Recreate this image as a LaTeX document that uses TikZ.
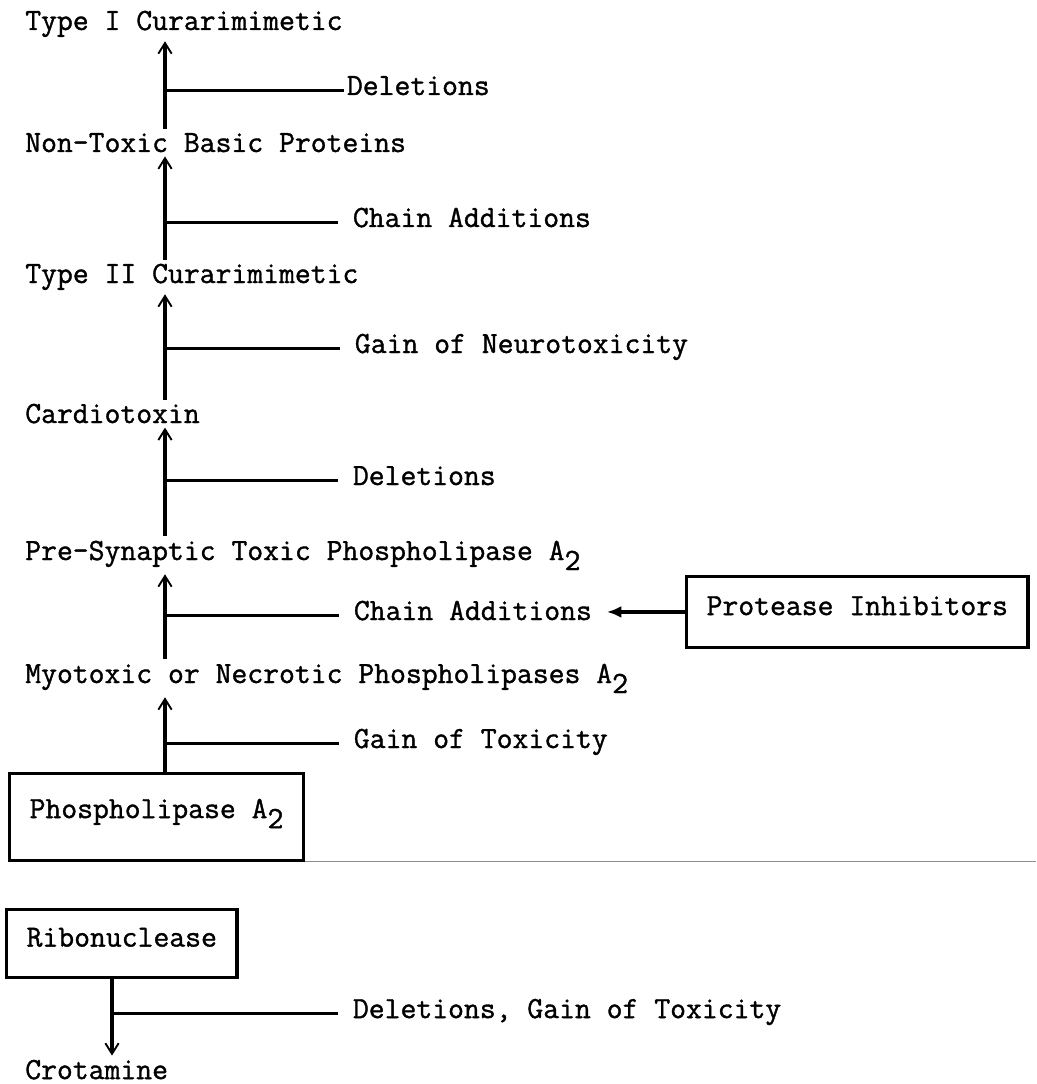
\documentclass[tikz,border=0pt]{standalone}
\usepackage{fontspec}
\newfontfamily\maquina{Latin Modern Mono}[FakeBold=1.2]
\usetikzlibrary{arrows.meta}
\tikzstyle{paso} = [anchor=base west, inner xsep=0pt, inner ysep=3pt,
  font=\maquina\fontsize{23.1}{28}\selectfont]
\tikzstyle{cambio} = [paso, inner xsep=11pt, text height=0.72em, text depth=0pt]
\tikzstyle{caja} = [paso, draw, line width=2.4pt, anchor=north west,
  inner xsep=15pt, text height=0.72em, text depth=0.25em]
\tikzstyle{flecha} = [draw, line width=2.4pt,
  -{Straight Barb[length=8pt,width=10pt,line width=1.4pt]}]
\tikzstyle{rama} = [draw, line width=2.4pt]
\tikzstyle{inhibe} = [draw, line width=2.6pt, -{Latex[length=11pt,width=9pt]}]
\tikzstyle{separa} = [draw, line width=0.8pt, color=black!45]
\newcommand{\paso}[2]{node (p#1) [paso] {#2}}
\newcommand{\cambio}[2]{node (m#1) [cambio] {#2}}
\newcommand{\caja}[3]{node (c#1) [caja, #2] {#3}}
\newcommand{\dos}{\raisebox{-7.5pt}{2}}

\begin{document}
\begin{tikzpicture}[x=0.75pt,y=-0.75pt]
\useasboundingbox (0,0) rectangle (1036,1084);

% Draw diagram elements
\path (25,30)                  \paso{1}{Type I Curarimimetic};
\path (p1.base west)+(0,122)   \paso{2}{Non-Toxic Basic Proteins};
\path (p2.base west)+(0,131)   \paso{3}{Type II Curarimimetic};
\path (p3.base west)+(0,140)   \paso{4}{Cardiotoxin};
\path (p4.base west)+(0,137)   \paso{5}{Pre-Synaptic Toxic Phospholipase A\dos};
\path (p5.base west)+(0,123)   \paso{6}{Myotoxic or Necrotic Phospholipases A\dos};

\path (p6.base west)+(-17,89)  \caja{1}{minimum height=65pt, text depth=0.55em}{Phospholipase A\dos};
\path (p5.base west)+(660,15)  \caja{2}{minimum height=53pt}{Protease Inhibitors};
\path (c1.south west)+(-3,46)  \caja{3}{minimum height=51pt}{Ribonuclease};
\path (c3.south west)+(20,100) \paso{7}{Crotamine};

% Changes along each step
\path (p1.base west)+(319,65)  node (m1) [cambio, inner xsep=2pt] {Deletions};
\path (p2.base west)+(313,75)  \cambio{2}{Chain Additions};
\path (p3.base west)+(315,70)  \cambio{3}{Gain of Neurotoxicity};
\path (p4.base west)+(313,62)  \cambio{4}{Deletions};
\path (p5.base west)+(314,60)  \cambio{5}{Chain Additions};
\path (p6.base west)+(314,65)  \cambio{6}{Gain of Toxicity};
\path (c3.south west)+(333,39) \cambio{7}{Deletions, Gain of Toxicity};

% Axes of the arrows
\coordinate (eje) at (165,0);
\coordinate (eje2) at (112,0);
\coordinate (borde) at (1036,0);

% Draw arrows between elements
\path [flecha] (p2.north -| eje) -- (p1.south -| eje);
\path [flecha] (p3.north -| eje) -- (p2.south -| eje);
\path [flecha] (p4.north -| eje) -- (p3.south -| eje);
\path [flecha] (p5.north -| eje) -- (p4.south -| eje);
\path [flecha] (p6.north -| eje) -- (p5.south -| eje);
\path [flecha] (c1.north -| eje) -- (p6.south -| eje);
\path [flecha] (c3.south -| eje2) -- (p7.north -| eje2);

\path [rama] (m1.west -| eje) -- (m1.west);
\path [rama] (m2.west -| eje) -- (m2.west);
\path [rama] (m3.west -| eje) -- (m3.west);
\path [rama] (m4.west -| eje) -- (m4.west);
\path [rama] (m5.west -| eje) -- (m5.west);
\path [rama] (m6.west -| eje) -- (m6.west);
\path [rama] (m7.west -| eje2) -- (m7.west);

\path [inhibe] (c2.west) -- (c2.west -| m5.east);

\path [separa] (c1.south east) -- (c1.south east -| borde);

\end{tikzpicture}
\end{document}
